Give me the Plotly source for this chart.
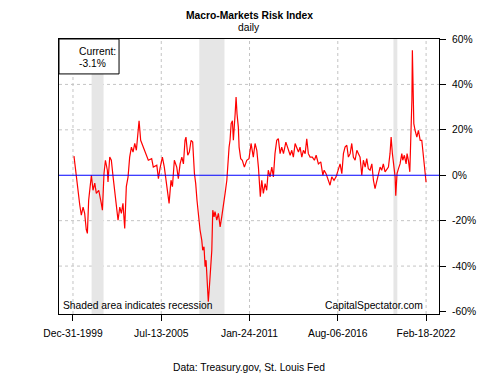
import pandas as pd
import plotly.graph_objects as go

# ---- data (decimal year, index value in %) ----
years = [
    2000.06, 2000.14, 2000.27, 2000.42, 2000.52, 2000.63, 2000.73, 2000.83, 2000.90, 2000.98,
    2001.07, 2001.15, 2001.25, 2001.36, 2001.46, 2001.61, 2001.77, 2001.84, 2001.94, 2002.03,
    2002.15, 2002.19, 2002.30, 2002.40, 2002.51, 2002.61, 2002.71, 2002.82, 2002.93, 2003.03,
    2003.13, 2003.24, 2003.34, 2003.45, 2003.55, 2003.66, 2003.76, 2003.87, 2003.97, 2004.08,
    2004.14, 2004.24, 2004.39, 2004.51, 2004.72, 2004.93, 2005.03, 2005.25, 2005.35, 2005.45,
    2005.60, 2005.72, 2005.87, 2005.97, 2006.02, 2006.14, 2006.23, 2006.35, 2006.50, 2006.60,
    2006.71, 2006.82, 2006.92, 2007.02, 2007.08, 2007.19, 2007.29, 2007.40, 2007.50, 2007.61,
    2007.69, 2007.77, 2007.86, 2007.96, 2008.07, 2008.13, 2008.21, 2008.28, 2008.34, 2008.42,
    2008.48, 2008.55, 2008.63, 2008.70, 2008.76, 2008.84, 2008.90, 2009.01, 2009.11, 2009.22,
    2009.32, 2009.42, 2009.53, 2009.64, 2009.70, 2009.78, 2009.84, 2009.91, 2009.99, 2010.05,
    2010.16, 2010.22, 2010.28, 2010.36, 2010.41, 2010.51, 2010.61, 2010.74, 2010.89, 2011.03,
    2011.16, 2011.30, 2011.41, 2011.52, 2011.62, 2011.68, 2011.74, 2011.83, 2011.93, 2012.04,
    2012.14, 2012.24, 2012.35, 2012.46, 2012.56, 2012.66, 2012.77, 2012.87, 2012.98, 2013.08,
    2013.19, 2013.34, 2013.46, 2013.61, 2013.71, 2013.81, 2013.92, 2014.03, 2014.13, 2014.23,
    2014.34, 2014.44, 2014.55, 2014.65, 2014.75, 2014.86, 2015.00, 2015.13, 2015.24, 2015.38,
    2015.53, 2015.66, 2015.74, 2015.86, 2016.01, 2016.11, 2016.22, 2016.36, 2016.49, 2016.63,
    2016.74, 2016.85, 2016.95, 2017.05, 2017.16, 2017.26, 2017.37, 2017.47, 2017.57, 2017.68,
    2017.79, 2017.89, 2017.99, 2018.10, 2018.20, 2018.31, 2018.41, 2018.51, 2018.62, 2018.73,
    2018.83, 2018.93, 2019.04, 2019.14, 2019.25, 2019.35, 2019.45, 2019.56, 2019.67, 2019.77,
    2019.87, 2019.94, 2020.02, 2020.11, 2020.19, 2020.23, 2020.31, 2020.40, 2020.50, 2020.61,
    2020.67, 2020.77, 2020.88, 2020.94, 2021.02, 2021.11, 2021.15, 2021.19, 2021.24, 2021.27,
    2021.32, 2021.36, 2021.44, 2021.55, 2021.65, 2021.76, 2021.86, 2021.92, 2021.99, 2022.03,
    2022.07, 2022.13,
]
values = [
    8.4, 3.6, -6.6, -13.0, -17.6, -14.0, -16.8, -24.0, -25.6, -11.0,
    -5.0, 0.0, -6.6, -3.5, -8.0, -6.6, -12.4, -15.4, 0.9, 6.6,
    2.2, -3.0, 8.0, 6.6, -0.7, -6.6, -11.0, -19.8, -14.0, -16.8,
    -12.4, -23.4, -5.0, -0.7, 8.0, 12.4, 10.2, 14.0, 11.0, 18.4,
    24.0, 15.4, 12.4, 10.2, 6.6, 7.3, 3.6, 4.4, -1.5, 3.0,
    8.0, 3.6, -3.5, -9.5, -12.4, -2.2, -5.0, 6.6, 3.6, -1.5,
    5.0, 8.0, 5.0, 15.4, 16.8, 8.8, 10.2, 15.4, 14.6, 0.7,
    -3.7, -11.0, -18.3, -24.0, -28.6, -33.0, -31.5, -40.3, -37.4, -47.6,
    -55.7, -49.0, -41.8, -33.0, -15.4, -18.3, -16.0, -19.8, -16.8, -22.7,
    -18.3, -14.0, -8.0, -2.2, 5.0, 12.4, 15.4, 22.7, 24.0, 15.4,
    27.0, 34.4, 27.0, 21.2, 12.4, 7.3, 6.6, 3.6, 6.6, 7.3,
    14.0, 8.0, 14.0, 11.0, 3.6, -3.7, -9.5, -2.2, -8.0, -3.7,
    -6.6, 2.2, -0.7, 3.6, -0.7, 9.5, 15.4, 16.1, 9.5, 12.4,
    9.5, 14.6, 12.4, 8.8, 11.0, 8.0, 14.0, 12.4, 10.2, 12.4,
    8.0, 11.0, 9.5, 16.1, 9.5, 8.0, 8.0, 6.6, 8.8, 5.0,
    5.9, 0.0, 2.2, 0.7, -2.2, -4.4, -0.7, -2.2, -0.7, 2.2,
    5.0, 0.7, 9.5, 12.4, 13.2, 8.0, 9.5, 14.0, 8.0, 6.6,
    11.0, 9.5, 8.0, 0.0, 6.6, 3.6, 7.3, 2.9, 2.2, 5.0,
    -2.2, -5.9, -2.2, 0.7, 3.6, 2.2, 5.0, 1.5, 2.9, 3.6,
    9.5, 16.8, 9.5, 3.6, -0.7, -9.0, 0.7, 2.9, 5.0, 9.5,
    6.6, 8.8, 5.0, 9.5, 6.6, 1.5, 11.0, 22.7, 33.0, 55.0,
    30.0, 22.7, 19.8, 16.8, 19.8, 15.4, 15.4, 11.0, 8.0, 3.6,
    1.5, -3.1,
]

recession_starts = ["2001-03-01", "2007-12-01", "2020-02-01"]
recession_ends = ["2001-11-30", "2009-06-30", "2020-04-30"]

x_tick_dates = ["1999-12-31", "2005-07-13", "2011-01-24", "2016-08-06", "2022-02-18"]
x_tick_labels = ["Dec-31-1999", "Jul-13-2005", "Jan-24-2011", "Aug-06-2016", "Feb-18-2022"]
y_tick_vals = [-60, -40, -20, 0, 20, 40, 60]
y_grid_vals = [-40, -20, 20, 40]


def yr2date(y):
    yi = int(y)
    return pd.Timestamp(yi, 1, 1) + pd.Timedelta(days=(y - yi) * 365.25)


dates = [yr2date(y) for y in years]
x_start = yr2date(1999.12)
x_end = yr2date(2022.94)
y_lo, y_hi = -61.1, 60

FONT = "Liberation Sans, Arial, Helvetica, sans-serif"
FS = 10.3

fig = go.Figure()
fig.add_trace(go.Scatter(
    x=dates, y=values, mode="lines",
    line=dict(color="#FF0000", width=1.2),
    hoverinfo="skip", showlegend=False,
))

shapes = []
for s, e in zip(recession_starts, recession_ends):
    shapes.append(dict(type="rect", xref="x", yref="y", x0=s, x1=e, y0=y_lo, y1=y_hi,
                       fillcolor="#E6E6E6", line=dict(width=0), layer="below"))
for d in x_tick_dates:
    shapes.append(dict(type="line", xref="x", yref="y", x0=d, x1=d, y0=y_lo, y1=y_hi,
                       line=dict(color="#C4C4C4", width=1, dash="dot"), layer="below"))
for v in y_grid_vals:
    shapes.append(dict(type="line", xref="paper", yref="y", x0=0, x1=1, y0=v, y1=v,
                       line=dict(color="#C4C4C4", width=1, dash="dot"), layer="below"))
# zero line
shapes.append(dict(type="line", xref="paper", yref="y", x0=0, x1=1, y0=0, y1=0,
                   line=dict(color="#0000FF", width=1), layer="above"))
# "Current" box
shapes.append(dict(type="rect", xref="paper", yref="paper", x0=0, x1=0.158, y0=0.873, y1=1,
                   line=dict(color="#000000", width=1), fillcolor="white", layer="above"))

annotations = [
    dict(text="<b>Macro-Markets Risk Index</b>", xref="paper", yref="paper", x=0.5, y=1,
         yshift=24, xanchor="center", yanchor="middle", showarrow=False,
         font=dict(size=FS, color="#000")),
    dict(text="daily", xref="paper", yref="paper", x=0.5, y=1, yshift=12,
         xanchor="center", yanchor="middle", showarrow=False, font=dict(size=FS, color="#000")),
    dict(text="Data: Treasury.gov, St. Louis Fed", xref="paper", yref="paper", x=0.5, y=0,
         yshift=-53, xanchor="center", yanchor="middle", showarrow=False,
         font=dict(size=FS, color="#000")),
    dict(text="Current:", xref="paper", yref="paper", x=0.047, y=1, yshift=-12,
         xanchor="left", yanchor="middle", showarrow=False, font=dict(size=FS, color="#000")),
    dict(text="%.1f%%" % values[-1], xref="paper", yref="paper", x=0.047, y=1, yshift=-24,
         xanchor="left", yanchor="middle", showarrow=False, font=dict(size=FS, color="#000")),
    dict(text="Shaded area indicates recession", xref="paper", yref="paper", x=0.005, y=0.03,
         xanchor="left", yanchor="middle", showarrow=False, font=dict(size=FS, color="#000")),
    dict(text="CapitalSpectator.com", xref="paper", yref="paper", x=0.962, y=0.03,
         xanchor="right", yanchor="middle", showarrow=False, font=dict(size=FS, color="#000")),
]

fig.update_layout(
    width=500, height=375, autosize=False,
    margin=dict(l=59, r=61, t=39, b=61),
    paper_bgcolor="white", plot_bgcolor="white",
    font=dict(family=FONT, size=FS, color="#000"),
    shapes=shapes, annotations=annotations,
    showlegend=False,
)
fig.update_xaxes(
    type="date", range=[x_start, x_end],
    tickvals=x_tick_dates, ticktext=x_tick_labels,
    ticks="outside", ticklen=6, tickcolor="#000", tickfont=dict(size=FS, color="#000"),
    ticklabelstandoff=4,
    showgrid=False, zeroline=False,
    showline=True, linecolor="#000", linewidth=1, mirror=True,
)
fig.update_yaxes(
    side="right", range=[y_lo, y_hi],
    tickvals=y_tick_vals, ticktext=["%d%%" % v for v in y_tick_vals],
    ticks="outside", ticklen=6, tickcolor="#000", tickfont=dict(size=FS, color="#000"),
    ticklabelstandoff=4,
    showgrid=False, zeroline=False,
    showline=True, linecolor="#000", linewidth=1, mirror=True,
)

fig.write_html(
    "out.html",
    config={"responsive": False, "displayModeBar": False},
    default_width="500px", default_height="375px",
    post_script="document.body.style.margin='0';document.body.style.padding='0';"
                "document.body.style.overflow='hidden';",
)
